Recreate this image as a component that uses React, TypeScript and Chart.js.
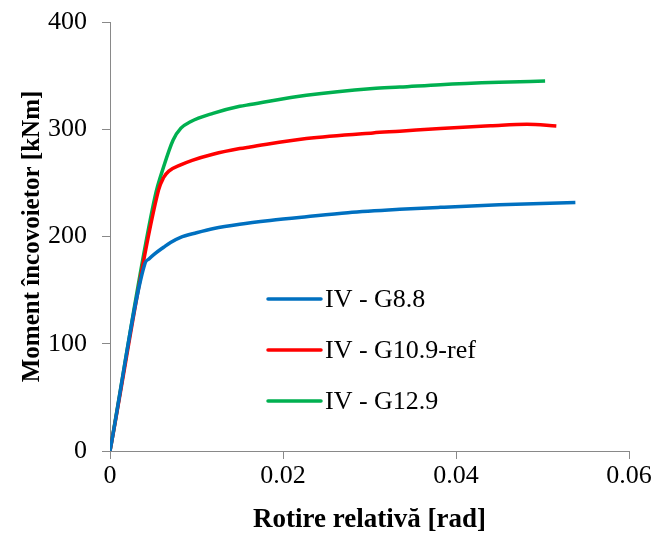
import React, { useEffect, useRef } from "react";
import { Chart, registerables } from "chart.js";

Chart.register(...registerables);

const seriesNames = ["IV - G8.8", "IV - G10.9-ref", "IV - G12.9"];
const seriesColors = ["#0070C0", "#FF0000", "#00B050"];

const blueX = [0, 0.00405, 0.0045, 0.0052, 0.0062, 0.007, 0.0081, 0.01, 0.012, 0.015, 0.0185, 0.0227, 0.0275, 0.0335, 0.0382, 0.045, 0.0538];
const blueY = [0, 175, 179, 184, 190, 194.5, 199, 203.5, 207.5, 211.5, 215, 218.5, 222.2, 225.3, 227.2, 229.6, 231.7];

const redX = [0, 0.0056, 0.0062, 0.0068, 0.0081, 0.0095, 0.0119, 0.015, 0.0162, 0.0227, 0.0304, 0.0335, 0.0382, 0.044, 0.0482, 0.0516];
const redY = [0, 243, 255, 261, 266.5, 271, 276.7, 282, 283.5, 291.3, 296.6, 298.2, 300.8, 303.2, 304.7, 303.1];

const greenX = [0, 0.0052, 0.0062, 0.0073, 0.0082, 0.0093, 0.0119, 0.015, 0.0162, 0.0227, 0.0304, 0.0335, 0.0382, 0.045, 0.0503];
const greenY = [0, 237, 265, 290, 301, 307, 314.8, 321.4, 323, 331.7, 338, 339.3, 341.6, 343.8, 345];

const xTicks = [0, 0.02, 0.04, 0.06];
const yTicks = [0, 100, 200, 300, 400];

const FONT = "'Liberation Serif', 'Times New Roman', serif";
const AXIS_GRAY = "#898989";

const toPoints = (xs: number[], ys: number[]) => xs.map((x, i) => ({ x, y: ys[i] }));

const legendPlugin = {
  id: "innerLegend",
  afterDraw(chart: any) {
    const ctx = chart.ctx;
    const area = chart.chartArea;
    const x0 = area.left + 158;
    const lineLen = 53;
    const y0 = area.top + 277;
    const gap = 51;
    ctx.save();
    ctx.font = `26px ${FONT}`;
    ctx.textBaseline = "middle";
    ctx.textAlign = "left";
    seriesNames.forEach((name, i) => {
      const y = y0 + i * gap;
      ctx.strokeStyle = seriesColors[i];
      ctx.lineWidth = 3.5;
      ctx.lineCap = "round";
      ctx.beginPath();
      ctx.moveTo(x0, y);
      ctx.lineTo(x0 + lineLen, y);
      ctx.stroke();
      ctx.fillStyle = "#000";
      ctx.fillText(name, x0 + lineLen + 4, y + 1);
    });
    ctx.restore();
  },
};

export default function App() {
  const ref = useRef<HTMLCanvasElement | null>(null);
  useEffect(() => {
    document.body.style.margin = "0";
    const canvas = ref.current;
    if (!canvas) return;
    const datasets = [
      toPoints(blueX, blueY),
      toPoints(redX, redY),
      toPoints(greenX, greenY),
    ].map((data, i) => ({
      label: seriesNames[i],
      data,
      borderColor: seriesColors[i],
      backgroundColor: seriesColors[i],
      borderWidth: 3.5,
      pointRadius: 0,
      cubicInterpolationMode: "monotone" as const,
      fill: false,
    }));
    const chart = new Chart(canvas, {
      type: "line",
      data: { datasets },
      plugins: [legendPlugin],
      options: {
        animation: false,
        responsive: false,
        maintainAspectRatio: false,
        layout: { padding: { left: 0, right: 29, top: 22, bottom: 0 } },
        plugins: { legend: { display: false }, tooltip: { enabled: false } },
        scales: {
          x: {
            type: "linear",
            min: 0,
            max: 0.06,
            afterBuildTicks: (s: any) => {
              s.ticks = xTicks.map((v) => ({ value: v }));
            },
            afterFit: (s: any) => {
              s.height = 83;
            },
            ticks: {
              color: "#000",
              font: { family: FONT, size: 26 },
              padding: 2,
              callback: (v: any) => String(v),
            },
            grid: { drawOnChartArea: false, color: AXIS_GRAY, tickLength: 8, lineWidth: 1 },
            border: { color: AXIS_GRAY, width: 1 },
            title: {
              display: true,
              text: "Rotire relativă [rad]",
              color: "#000",
              font: { family: FONT, size: 27, weight: "bold", lineHeight: 1 },
              padding: { top: 0, bottom: 0 },
            },
          },
          y: {
            type: "linear",
            min: 0,
            max: 400,
            afterBuildTicks: (s: any) => {
              s.ticks = yTicks.map((v) => ({ value: v }));
            },
            afterFit: (s: any) => {
              s.width = 110;
              s.paddingTop = 0;
              s.paddingBottom = 0;
            },
            ticks: {
              color: "#000",
              font: { family: FONT, size: 26 },
              padding: 15,
            },
            grid: { drawOnChartArea: false, color: AXIS_GRAY, tickLength: 8, lineWidth: 1 },
            border: { color: AXIS_GRAY, width: 1 },
            title: {
              display: true,
              text: "Moment încovoietor [kNm]",
              color: "#000",
              font: { family: FONT, size: 25, weight: "bold", lineHeight: 1 },
              padding: { top: 20, bottom: 0 },
            },
          },
        },
      },
    });
    return () => chart.destroy();
  }, []);
  return (
    <div style={{ width: 658, height: 534 }}>
      <canvas ref={ref} width={658} height={534} style={{ display: "block", width: 658, height: 534 }} />
    </div>
  );
}
